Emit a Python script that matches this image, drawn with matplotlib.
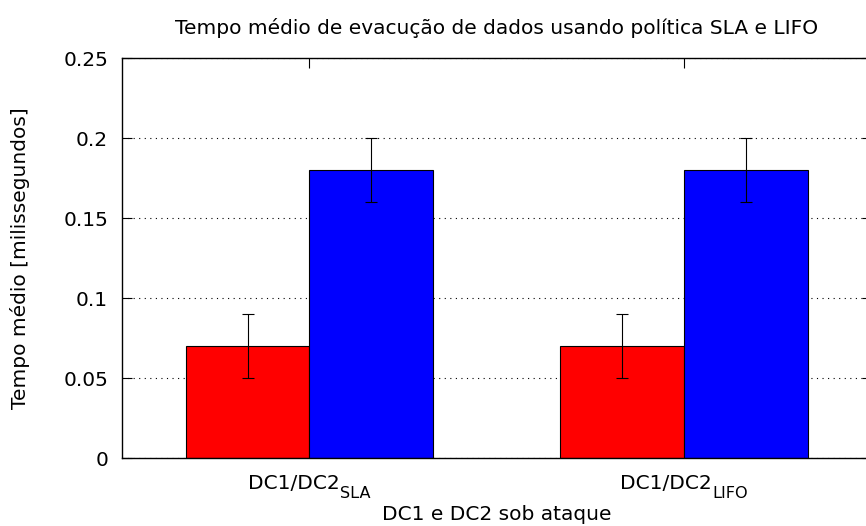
import numpy as np
import matplotlib
matplotlib.use('Agg')
import matplotlib.pyplot as plt
import matplotlib.transforms as mtrans

# data
group_base = ['DC1/DC2', 'DC1/DC2']
group_sub = ['SLA', 'LIFO']
red_vals = [0.07, 0.07]
red_err = [0.02, 0.02]
blue_vals = [0.18, 0.18]
blue_err = [0.02, 0.02]
yticks = [0, 0.05, 0.1, 0.15, 0.2, 0.25]
ytick_labels = ['0', '0.05', '0.1', '0.15', '0.2', '0.25']

plt.rcParams['font.family'] = 'DejaVu Sans'
fs = 14.5

fig = plt.figure(figsize=(8.66, 5.26), dpi=100)
W, H = 866, 526
ax = fig.add_axes([122 / W, (H - 458) / H, (871.5 - 122) / W, 400 / H])

x = np.arange(len(group_base))
w = 0.33
ebk = dict(ecolor='black', elinewidth=0.8, capsize=4, capthick=0.8)
ax.bar(x - w / 2, red_vals, w, yerr=red_err, color='#ff0000',
       edgecolor='black', linewidth=0.8, error_kw=ebk, zorder=2)
ax.bar(x + w / 2, blue_vals, w, yerr=blue_err, color='#0000ff',
       edgecolor='black', linewidth=0.8, error_kw=ebk, zorder=2)

ax.set_xlim(-0.5, 1.5)
ax.set_ylim(0, 0.25)
ax.set_yticks(yticks)
ax.set_yticklabels(ytick_labels, fontsize=fs)
ax.set_xticks(x)
ax.set_xticklabels([])
ax.tick_params(axis='both', direction='in', length=7, width=0.8,
               top=True, right=True, pad=10)
ax.yaxis.grid(True, linestyle=(0, (1, 4)), color='black', linewidth=0.8, zorder=0)
ax.set_axisbelow(True)
for s in ax.spines.values():
    s.set_linewidth(1.0)

# x tick labels with subscripts, centred on each group
fig.canvas.draw()
r = fig.canvas.get_renderer()
trans = ax.get_xaxis_transform()
for xi, b, sb in zip(x, group_base, group_sub):
    t1 = ax.text(xi, 0, b, transform=trans, fontsize=fs, ha='left', va='baseline')
    t2 = ax.annotate(sb, xy=(1, 0), xycoords=t1, xytext=(0, -3.5),
                     textcoords='offset points', fontsize=fs * 0.8,
                     ha='left', va='baseline')
    w1 = t1.get_window_extent(r).width
    w2 = t2.get_window_extent(r).width
    shift = -(w1 + w2) / 2
    t1.set_transform(trans + mtrans.ScaledTranslation(shift / 100, -31 / 100, fig.dpi_scale_trans))

ax.set_title('Tempo médio de evacução de dados usando política SLA e LIFO',
             fontsize=fs, pad=17)
ax.set_xlabel('DC1 e DC2 sob ataque', fontsize=fs, labelpad=23.5)
ax.set_ylabel('Tempo médio [milissegundos]', fontsize=fs, labelpad=24)

fig.savefig('out.png', dpi=100)
